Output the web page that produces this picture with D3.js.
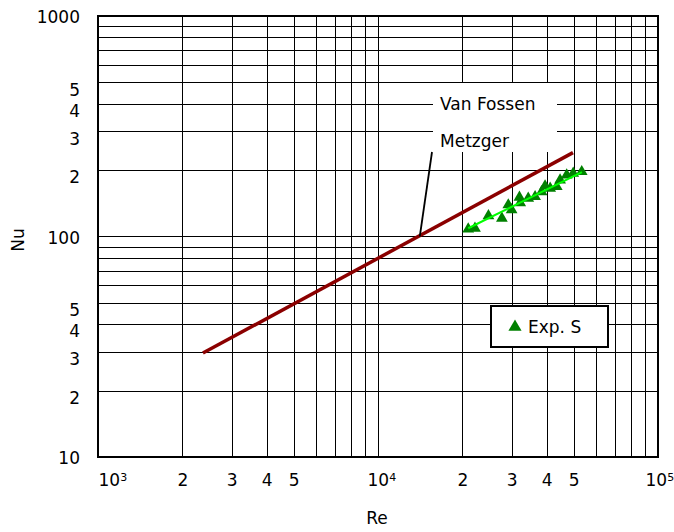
<!DOCTYPE html>
<html>
<head>
<meta charset="utf-8">
<script src="https://cdn.jsdelivr.net/npm/d3@7"></script>
<style>
  body { margin: 0; background: #fff; }
  text { font-family: "DejaVu Sans", sans-serif; font-size: 17px; fill: #000; }
</style>
</head>
<body>
<div id="chart"></div>
<script>
//////////////////////////////
// DATA
//////////////////////////////

const metzgerRe = [2370, 49700]
const metzgerNu = [29.6, 240]

const fitRe = [21000, 53500]
const fitNu = [109, 196]

const expRe = [21000, 22200, 24800, 27700, 29200, 30000, 32000, 32200, 34400, 36400, 38400, 39500, 41200, 43500, 44700, 47200, 49800, 53400]
const expNu = [108, 109, 124, 121, 139, 132, 150.5, 142, 149, 151.5, 159.6, 169.4, 165.4, 168.2, 180.4, 190, 193.5, 196.7]

const reTicks = [1000, 2000, 3000, 4000, 5000, 10000, 20000, 30000, 40000, 50000, 100000]
const reTickText = ["10|3", "2", "3", "4", "5", "10|4", "2", "3", "4", "5", "10|5"]

const nuTicks = [10, 20, 30, 40, 50, 100, 200, 300, 400, 500, 1000]
const nuTickText = ["10", "2", "3", "4", "5", "100", "2", "3", "4", "5", "1000"]

//////////////////////////////
// CHART
//////////////////////////////

const width = 674
const height = 532
const margin = {top: 16, right: 16, bottom: 75, left: 98}
const w = width - margin.left - margin.right
const h = height - margin.top - margin.bottom

let svg = d3.select("#chart").append("svg").attr("width", width).attr("height", height)
svg.append("rect").attr("width", width).attr("height", height).attr("fill", "#fff")

let g = svg.append("g").attr("transform", "translate(" + margin.left + "," + margin.top + ")")

let x = d3.scaleLog().domain([1e3, 1e5]).range([0, w])
let y = d3.scaleLog().domain([10, 1000]).range([h, 0])

// grid
g.append("g").selectAll("line").data(x.ticks()).enter().append("line")
	.attr("x1", d => Math.round(x(d)) + 0.5).attr("x2", d => Math.round(x(d)) + 0.5)
	.attr("y1", 0).attr("y2", h)
	.attr("stroke", "#000").attr("stroke-width", 1)

g.append("g").selectAll("line").data(y.ticks()).enter().append("line")
	.attr("y1", d => Math.round(y(d)) + 0.5).attr("y2", d => Math.round(y(d)) + 0.5)
	.attr("x1", 0).attr("x2", w)
	.attr("stroke", "#000").attr("stroke-width", 1)

// lines and points
let line = d3.line().x(d => x(d[0])).y(d => y(d[1]))

g.append("path").datum(d3.zip(metzgerRe, metzgerNu)).attr("d", line)
	.attr("fill", "none").attr("stroke", "#8b0000").attr("stroke-width", 3.5)

let tri = d3.symbol().type(d3.symbolTriangle)

g.append("g").selectAll("path").data(d3.zip(expRe, expNu)).enter().append("path")
	.attr("d", tri.size(60))
	.attr("transform", d => "translate(" + x(d[0]) + "," + y(d[1]) + ")")
	.attr("fill", "#008000")

g.append("path").datum(d3.zip(fitRe, fitNu)).attr("d", line)
	.attr("fill", "none").attr("stroke", "#00ff00").attr("stroke-width", 2)

// annotation box
let note = g.append("g")
note.append("rect").attr("x", 433 - margin.left).attr("y", 83 - margin.top)
	.attr("width", 124).attr("height", 69).attr("fill", "#fff")
note.append("text").attr("x", 440 - margin.left).attr("y", 110 - margin.top).text("Van Fossen")
note.append("text").attr("x", 440 - margin.left).attr("y", 147 - margin.top).text("Metzger")
note.append("line")
	.attr("x1", 432 - margin.left).attr("y1", 152 - margin.top)
	.attr("x2", x(14100)).attr("y2", y(100))
	.attr("stroke", "#000").attr("stroke-width", 1.8)

// legend
let legend = g.append("g").attr("transform", "translate(" + (490 - margin.left) + "," + (305 - margin.top) + ")")
legend.append("rect").attr("x", 1).attr("y", 1).attr("width", 117).attr("height", 41)
	.attr("fill", "#fff").attr("stroke", "#000").attr("stroke-width", 2)
legend.append("path").attr("d", tri.size(75)).attr("transform", "translate(25,22)").attr("fill", "#008000")
legend.append("text").attr("x", 38).attr("y", 28).text("Exp. S")

// frame
g.append("rect").attr("width", w).attr("height", h)
	.attr("fill", "none").attr("stroke", "#000").attr("stroke-width", 2)

// y axis labels
let yAxis = d3.axisLeft(y).tickValues(nuTicks).tickSize(0).tickPadding(18)
	.tickFormat((d, i) => nuTickText[i])
let ya = g.append("g").call(yAxis)
ya.select(".domain").remove()
ya.selectAll("text").style("font-size", "17px").attr("font-family", null)
	.attr("dy", (d, i) => nuTickText[i].length > 1 ? "0.4em" : "0.75em")

// x axis labels
let xAxis = d3.axisBottom(x).tickValues(reTicks).tickSize(0).tickPadding(17)
	.tickFormat((d, i) => reTickText[i])
let xa = g.append("g").attr("transform", "translate(0," + h + ")").call(xAxis)
xa.select(".domain").remove()
xa.selectAll("text").attr("font-family", null).each(function(d, i) {
	let parts = reTickText[i].split("|")
	let t = d3.select(this).text(null)
	if (parts.length > 1) {
		let off = i === 0 ? 0 : (i === reTickText.length - 1 ? -13 : -11)
		t.attr("text-anchor", "start").attr("x", off)
		t.append("tspan").text(parts[0])
		t.append("tspan").attr("dy", "-0.45em").style("font-size", "11px").text(parts[1])
	} else {
		t.text(parts[0])
	}
})

// axis titles
svg.append("text").attr("x", 377).attr("y", 524).attr("text-anchor", "middle").text("Re")
svg.append("text").attr("transform", "translate(24,240) rotate(-90)").attr("text-anchor", "middle").text("Nu")
</script>
</body>
</html>
